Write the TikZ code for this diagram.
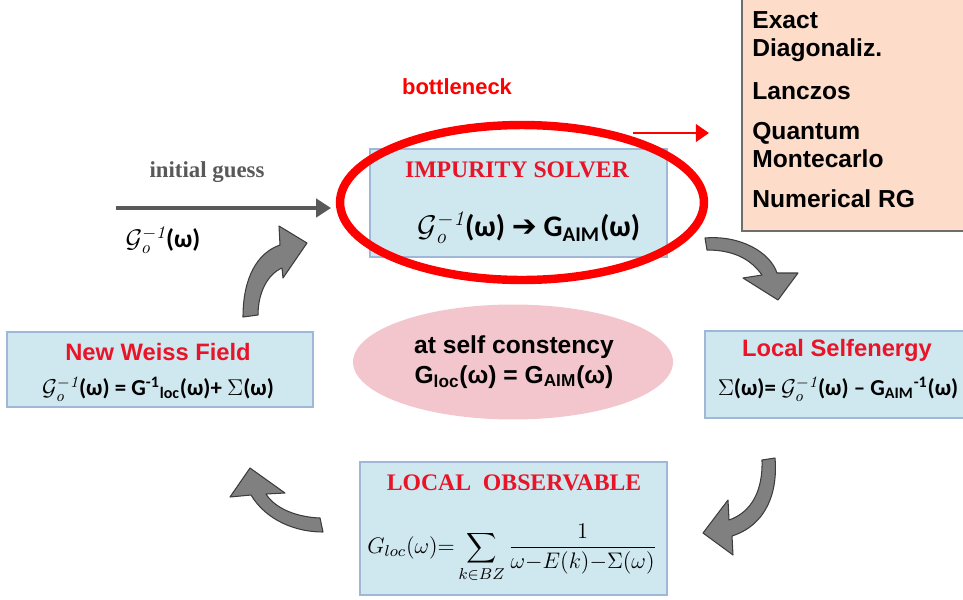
\RequirePackage{fix-cm}
\documentclass[tikz,border=0pt]{standalone}
\usepackage{amsmath}
\usepackage{fontspec}
\usetikzlibrary{shapes.geometric,arrows.meta}
\newfontfamily\arialf{Liberation Sans}
\newfontfamily\timesf{Liberation Serif}
\newfontfamily\calf{Carlito}
\newfontfamily\symf{DejaVu Sans}

\definecolor{boxfill}{RGB}{207,231,239}
\definecolor{boxline}{RGB}{160,184,216}
\definecolor{titlered}{RGB}{232,20,40}
\definecolor{ovalred}{RGB}{255,0,0}
\definecolor{methodfill}{RGB}{253,221,202}
\definecolor{methodline}{RGB}{110,110,110}
\definecolor{pinkfill}{RGB}{242,198,204}
\definecolor{arrowgray}{RGB}{128,128,128}
\definecolor{arrowdark}{RGB}{60,60,60}
\definecolor{guessgray}{RGB}{89,89,89}

% Weiss field G_0^{-1}
\newcommand{\weissG}{$\mathcal{G}_{\mathit{o}}^{\mathit{-1}}$}

\tikzset{
  bluebox/.style={draw=boxline, fill=boxfill, line width=1.3pt, inner sep=0pt},
  seriftitle/.style={text=titlered, font=\timesf\bfseries\fontsize{13.5}{15}\selectfont, inner sep=0pt},
  sanstitle/.style={text=titlered, font=\arialf\bfseries\fontsize{13.5}{16}\selectfont, inner sep=0pt},
  formula/.style={font=\calf\bfseries\fontsize{13}{16}\selectfont, inner sep=0pt},
  bigformula/.style={font=\calf\bfseries\fontsize{17}{20}\selectfont, inner sep=0pt},
  methodtext/.style={anchor=base west, font=\arialf\bfseries\fontsize{14}{16}\selectfont, inner sep=0pt},
  blockarrow/.style={fill=arrowgray, draw=arrowdark, line width=0.6pt, line join=round},
}

\begin{document}
\begin{tikzpicture}[x=0.02cm, y=-0.02cm]
\useasboundingbox (0,0) rectangle (963,599);

% boxes
\node[bluebox, minimum width=5.94cm, minimum height=2.16cm] (imp) at (518.5,203) {};
\node[draw=methodline, fill=methodfill, line width=0.8pt, minimum width=4.66cm, minimum height=4.72cm, inner sep=0pt] (methods) at (858.5,113) {};
\node[bluebox, minimum width=6.12cm, minimum height=1.5cm] (weiss) at (160,369.5) {};
\node[bluebox, minimum width=5.4cm, minimum height=1.74cm] (self) at (840,374.5) {};
\node[bluebox, minimum width=6.14cm, minimum height=2.66cm] (obs) at (513.5,528.5) {};
\node[ellipse, fill=pinkfill, minimum width=6.4cm, minimum height=2.3cm, inner sep=0pt] (consist) at (513,362) {};

% bottleneck oval around the impurity solver
\node[ellipse, draw=ovalred, line width=4.8pt, minimum width=7.28cm, minimum height=3.1cm, inner sep=0pt] (oval) at (522,202.5) {};

% impurity solver
\node[seriftitle] (imptitle) at (517,170) {IMPURITY SOLVER};
\node[bigformula] (impform) at (529,228) {\weissG(ω) {\symf ➔} G\textsubscript{AIM}(ω)};

% bottleneck label and arrow to the solver methods
\node[text=ovalred, font=\arialf\bfseries\fontsize{12.5}{15}\selectfont, inner sep=0pt] (bneck) at (457,87) {bottleneck};
\coordinate (bnfrom) at (633,133);
\coordinate (bnto) at (709,133);
\draw[ovalred, line width=1.5pt, -{Triangle[length=7.5pt,width=10pt]}] (bnfrom) -- (bnto);

% solver methods
\node[methodtext] (m1) at (752,28) {Exact};
\node[methodtext] (m2) at (752,56) {Diagonaliz.};
\node[methodtext] (m3) at (752,99) {Lanczos};
\node[methodtext] (m4) at (752,139) {Quantum};
\node[methodtext] (m5) at (752,167) {Montecarlo};
\node[methodtext] (m6) at (752,207) {Numerical RG};

% initial guess
\node[text=guessgray, font=\timesf\bfseries\fontsize{13}{15}\selectfont, inner sep=0pt] (guess) at (207,172) {initial guess};
\coordinate (gfrom) at (116,208);
\coordinate (gto) at (331,208);
\draw[guessgray, line width=1.8pt, -{Triangle[length=8.5pt,width=10.5pt]}] (gfrom) -- (gto);
\node[formula, font=\calf\bfseries\fontsize{14.5}{17}\selectfont] (guessform) at (163,240) {\weissG(ω)};

% new Weiss field
\node[sanstitle] (weisstitle) at (158,352) {New Weiss Field};
\node[formula] (weissform) at (158,389) {\weissG(ω) = G\textsuperscript{-1}\textsubscript{loc}(ω)+ $\Sigma$(ω)};

% local self-energy
\node[sanstitle] (selftitle) at (837,350) {Local Selfenergy};
\node[formula] (selfform) at (838,389) {$\Sigma$(ω)= \weissG(ω) – G\textsubscript{AIM}\textsuperscript{-1}(ω)};

% self-consistency condition
\node[font=\arialf\bfseries\fontsize{14}{17}\selectfont, inner sep=0pt, align=center] (consisttext) at (514,362)
  {at self constency\\G\textsubscript{loc}(ω) = G\textsubscript{AIM}(ω)};

% local observable
\node[seriftitle] (obstitle) at (514,483) {LOCAL\ \ OBSERVABLE};
\node[inner sep=0pt, font=\fontsize{12.8}{16}\selectfont] (obsform) at (512,553)
  {$\displaystyle G_{loc}(\omega)\mathord{=}\sum_{k\in BZ}\frac{1}{\omega{-}E(k){-}\Sigma(\omega)}$};

% cycle arrows
\draw[blockarrow] (243,317) .. controls (243,278) and (257,253) .. (280,245)
  -- (279,226) -- (307,243) -- (283,278) -- (282,268)
  .. controls (268,274) and (258,292) .. (258,315) -- cycle;
\draw[blockarrow] (705,238) .. controls (740,235) and (770,252) .. (777,273)
  -- (798,273) -- (778,300) -- (743,278) -- (762,275)
  .. controls (750,258) and (732,250) .. (707,250) -- cycle;
\draw[blockarrow] (762,460) .. controls (763,490) and (752,512) .. (729,520)
  -- (728,500) -- (703,533) -- (733,555) -- (732,536)
  .. controls (766,525) and (778,493) .. (775,458) -- cycle;
\draw[blockarrow] (320,518) .. controls (294,517) and (274,507) .. (266,494)
  -- (285,493) -- (250,468) -- (230,497) -- (251,495)
  .. controls (266,520) and (295,532) .. (323,532) -- cycle;
\end{tikzpicture}
\end{document}
